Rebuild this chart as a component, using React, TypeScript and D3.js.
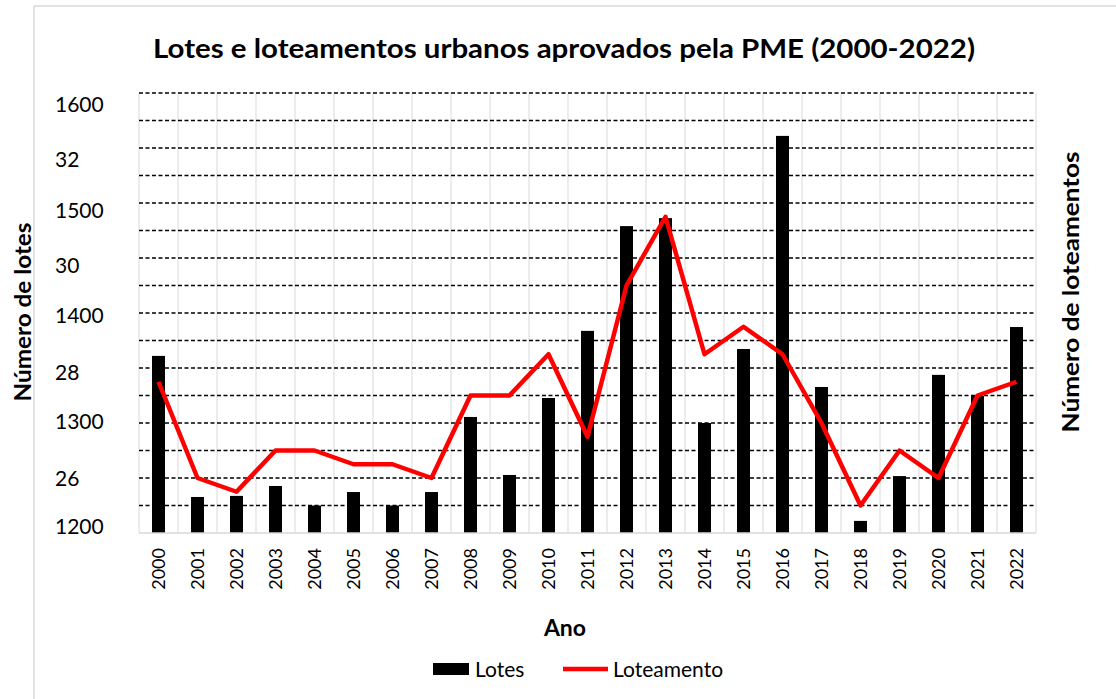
import React from 'react';
import * as d3 from 'd3';

const years = ['2000', '2001', '2002', '2003', '2004', '2005', '2006', '2007', '2008', '2009', '2010', '2011',
  '2012', '2013', '2014', '2015', '2016', '2017', '2018', '2019', '2020', '2021', '2022'];
// número de lotes (eixo principal)
const lotes = [644, 131, 135, 171, 100, 149, 100, 149, 422, 211, 491, 735, 1116, 1145, 400, 669, 1444, 531, 44, 207, 575, 498, 749];
// número de loteamentos (eixo secundário)
const loteamentos = [11, 4, 3, 6, 6, 5, 5, 4, 10, 10, 13, 7, 18, 23, 13, 15, 13, 8, 2, 6, 4, 10, 11];

// rótulos que aparecem sobrepostos no eixo da esquerda
const primaryLabels = [1200, 1300, 1400, 1500, 1600];
const secondaryLabels = [26, 28, 30, 32];

const W = 1116;
const H = 699;
const plot = { left: 139, right: 1036, top: 93, bottom: 533 };
const font = 'Lato, Calibri, sans-serif';

const App: React.FC = () => {
  const x = d3.scaleBand<string>().domain(years).range([plot.left, plot.right]);
  const y1 = d3.scaleLinear().domain([0, 1600]).range([plot.bottom, plot.top]);
  const y2 = d3.scaleLinear().domain([0, 32]).range([plot.bottom, plot.top]);

  // posições dos rótulos (como o Excel os desenhou)
  const labP = d3.scaleLinear().domain([1200, 1600]).range([534, 112]);
  const labS = d3.scaleLinear().domain([26, 32]).range([486, 167]);

  const bw = x.bandwidth() / 3;
  const cx = (d: string) => (x(d) as number) + x.bandwidth() / 2;

  const line = d3
    .line<number>()
    .x((_, i) => cx(years[i]))
    .y(d => y2(d));

  const gridVals = d3.range(100, 1601, 100);

  return (
    <svg width={W} height={H} style={{ position: 'absolute', left: 0, top: 0, background: '#fff' }}>
      <rect x={34} y={6} width={W} height={H} fill="#fff" stroke="#d9d9d9" strokeWidth={1.5} />

      <text x={564} y={58} textAnchor="middle" fontFamily={font} fontWeight="bold" fontSize={26}
        textLength={822} lengthAdjust="spacingAndGlyphs">
        Lotes e loteamentos urbanos aprovados pela PME (2000-2022)
      </text>

      {/* grade vertical */}
      {years.map(d => (
        <line key={'v' + d} x1={x(d)} x2={x(d)} y1={plot.top} y2={plot.bottom} stroke="#d9d9d9" strokeWidth={1} />
      ))}
      <line x1={plot.right} x2={plot.right} y1={plot.top} y2={plot.bottom} stroke="#d9d9d9" strokeWidth={1} />

      {/* grade horizontal tracejada */}
      {gridVals.map(v => (
        <line key={'h' + v} x1={plot.left} x2={plot.right} y1={y1(v)} y2={y1(v)}
          stroke="#000" strokeWidth={1.5} strokeDasharray="4,2.5" />
      ))}

      {/* barras */}
      {lotes.map((v, i) => (
        <rect key={'b' + i} x={cx(years[i]) - bw / 2} y={y1(v)} width={bw} height={y1(0) - y1(v)} fill="#000" />
      ))}

      <line x1={plot.left} x2={plot.right} y1={plot.bottom} y2={plot.bottom} stroke="#d9d9d9" strokeWidth={1.5} />

      {/* linha */}
      <path d={line(loteamentos) || ''} fill="none" stroke="#ff0000" strokeWidth={4.5} strokeLinejoin="round" />

      {/* rótulos do eixo esquerdo */}
      {primaryLabels.map(v => (
        <text key={'p' + v} x={55} y={labP(v)} fontFamily={font} fontSize={21}>{v}</text>
      ))}
      {secondaryLabels.map(v => (
        <text key={'s' + v} x={55} y={labS(v)} fontFamily={font} fontSize={21}>{v}</text>
      ))}

      {/* rótulos do eixo x */}
      {years.map(d => (
        <text key={'x' + d} transform={`translate(${cx(d) + 6},548) rotate(-90)`} textAnchor="end"
          fontFamily={font} fontSize={18}>{d}</text>
      ))}

      <text transform="translate(31,312) rotate(-90)" textAnchor="middle" fontFamily={font} fontWeight="bold" fontSize={23}
        textLength={179} lengthAdjust="spacingAndGlyphs">
        Número de lotes
      </text>
      <text transform="translate(1079,292) rotate(-90)" textAnchor="middle" fontFamily={font} fontWeight="bold" fontSize={23}
        textLength={281} lengthAdjust="spacingAndGlyphs">
        Número de loteamentos
      </text>
      <text x={565} y={636} textAnchor="middle" fontFamily={font} fontWeight="bold" fontSize={23}>Ano</text>

      {/* legenda */}
      <rect x={433} y={663} width={36} height={12} fill="#000" />
      <text x={475} y={677} fontFamily={font} fontSize={21}>Lotes</text>
      <line x1={563} x2={608} y1={669} y2={669} stroke="#ff0000" strokeWidth={4.5} />
      <text x={613} y={677} fontFamily={font} fontSize={21}>Loteamento</text>
    </svg>
  );
};

export default App;
